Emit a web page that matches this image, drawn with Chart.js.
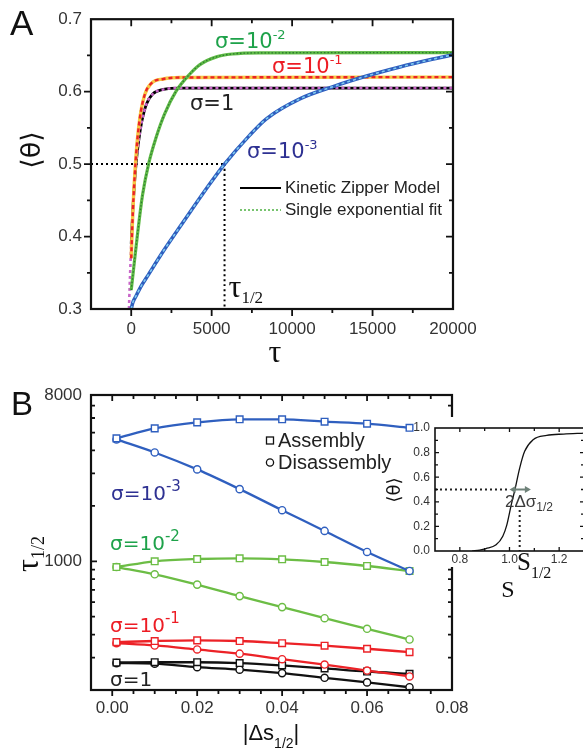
<!DOCTYPE html>
<html><head><meta charset="utf-8">
<script src="https://cdn.jsdelivr.net/npm/chart.js@4.4.1/dist/chart.umd.min.js"></script>
<style>
html,body{margin:0;padding:0;background:#fff;overflow:hidden;width:583px;height:755px;position:relative}
canvas{position:absolute;display:block}
#cA{left:0;top:0;width:583px;height:375px}
#cB{left:0;top:375px;width:583px;height:380px}
#cI{left:380px;top:415px;width:210px;height:190px}
</style></head><body>
<canvas id="cA" width="583" height="375"></canvas>
<canvas id="cB" width="583" height="380"></canvas>
<canvas id="cI" width="210" height="190"></canvas>
<script>
// ---------- Panel A: <θ> versus τ for four σ values ----------
const tauSig1      = [0, 100, 200, 300, 450, 650, 950, 1350, 2000, 3000, 20000];
const thetaSig1    = [0.39, 0.437, 0.472, 0.50, 0.53, 0.558, 0.583, 0.597, 0.603, 0.605, 0.605];
const tauSig1Fit   = [-140, -100, -50, 0, 100, 200, 300, 450, 650, 950, 1350, 2000, 3000, 20000];
const thetaSig1Fit = [0.30, 0.33, 0.36, 0.39, 0.437, 0.472, 0.50, 0.53, 0.558, 0.583, 0.597, 0.603, 0.605, 0.605];

const tauSig01   = [0, 60, 140, 310, 520, 830, 1250, 2000, 3000, 20000];
const thetaSig01 = [0.37, 0.41, 0.453, 0.515, 0.561, 0.595, 0.6115, 0.6175, 0.6195, 0.62];

const tauSig001   = [0, 200, 400, 700, 1100, 1550, 2070, 2800, 3630, 4250, 5300, 6300, 8000, 20000];
const thetaSig001 = [0.326, 0.366, 0.405, 0.457, 0.502, 0.537, 0.569, 0.601, 0.624, 0.637, 0.648, 0.652, 0.6535, 0.654];

const tauSig0001   = [0, 100, 300, 600, 1000, 2000, 3200, 4700, 5800, 7370, 8400, 10480, 12550, 14630, 16700, 18780, 20000];
const thetaSig0001 = [0.300, 0.309, 0.318, 0.331, 0.345, 0.380, 0.419, 0.467, 0.500, 0.540, 0.5625, 0.590, 0.607, 0.6215, 0.634, 0.645, 0.651];

const tauHalf = 5800;          // half-time of the σ=10^-3 curve
const tauTicks = [0, 5000, 10000, 15000, 20000];
const thetaTicks = [0.3, 0.4, 0.5, 0.6, 0.7];

// ---------- Panel B: τ1/2 versus |Δs1/2| ----------
const deltaS = [0.001, 0.01, 0.02, 0.03, 0.04, 0.05, 0.06, 0.07];
const blueAssembly     = [4650, 5270, 5680, 5900, 5900, 5730, 5590, 5310];
const blueDisassembly  = [4590, 3900, 3155, 2465, 1894, 1462, 1124, 886];
const greenAssembly    = [931, 1000, 1029, 1038, 1025, 991, 943, 886];
const greenDisassembly = [931, 850, 747, 647, 564, 491, 430, 376];
const redAssembly      = [364, 369, 372, 369, 359, 348, 335, 321];
const redDisassembly   = [359, 349, 332, 315, 294, 275, 255, 237];
const blackAssembly    = [282, 283, 283, 280, 272, 262, 252, 245];
const blackDisassembly = [280, 278, 266, 258, 247, 233, 220, 207];
const dsTicks = [0, 0.02, 0.04, 0.06, 0.08];
const tauHalfTicks = [1000, 8000];

// ---------- Inset: equilibrium <θ> versus s ----------
const sVals     = [0.85, 0.88, 0.905, 0.946, 0.973, 0.989, 1.007, 1.022, 1.041, 1.061, 1.095, 1.15, 1.218, 1.3];
const thetaEq   = [0.0, 0.008, 0.02, 0.05, 0.12, 0.21, 0.375, 0.5, 0.674, 0.81, 0.905, 0.94, 0.951, 0.959];
const sHalf = 1.041;
const sTicks = [0.8, 1.0, 1.2];
const thetaEqTicks = [0, 0.2, 0.4, 0.6, 0.8, 1.0];

// ---------- helpers ----------
const SANS = '"Liberation Sans", Arial, sans-serif';
const SERIF = '"Liberation Serif", "Times New Roman", serif';
const DJ = '"DejaVu Sans", sans-serif';
const pts = (xs, ys) => xs.map((x, i) => ({x, y: ys[i]}));

function richText(ctx, x, y, parts, align) {
  let w = 0;
  parts.forEach(p => { ctx.font = p.font; p.w = ctx.measureText(p.t).width; w += p.w; });
  let cx = align === 'center' ? x - w / 2 : x;
  ctx.textAlign = 'left'; ctx.textBaseline = 'alphabetic';
  parts.forEach(p => { ctx.font = p.font; ctx.fillStyle = p.color; ctx.fillText(p.t, cx, y + (p.dy || 0)); cx += p.w; });
}
function sigmaLabel(ctx, x, y, exp, color, size, supSize) {
  const parts = [{t: exp === null ? 'σ=1' : 'σ=10', font: size + 'px ' + DJ, color}];
  if (exp !== null) parts.push({t: exp, font: supSize + 'px ' + DJ, color, dy: -size * 0.45});
  richText(ctx, x, y, parts, 'left');
}

// axis box with major/minor tick marks placed by the chart's scales
function drawBox(chart, f) {
  const {ctx, chartArea: a} = chart;
  const sx = chart.scales.x, sy = chart.scales.y;
  ctx.save();
  ctx.strokeStyle = '#111';
  ctx.lineWidth = f.tickW;
  ctx.beginPath();
  const seg = (x1, y1, x2, y2) => { ctx.moveTo(x1, y1); ctx.lineTo(x2, y2); };
  [[f.xMajor, f.major], [f.xMinor, f.minor]].forEach(([list, len]) => list.forEach(v => {
    const p = sx.getPixelForValue(v);
    if (p < a.left + 1 || p > a.right - 1) return;
    seg(p, a.bottom, p, a.bottom + (f.bottomOut ? len : -len));
    seg(p, a.top, p, a.top + len);
  }));
  [[f.yMajor, f.major], [f.yMinor, f.minor]].forEach(([list, len]) => list.forEach(v => {
    const p = sy.getPixelForValue(v);
    if (p < a.top + 1 || p > a.bottom - 1) return;
    seg(a.left, p, a.left + (f.leftOut ? -len : len), p);
    seg(a.right, p, a.right - len, p);
  }));
  ctx.stroke();
  ctx.lineWidth = f.boxW;
  ctx.strokeRect(a.left, a.top, a.right - a.left, a.bottom - a.top);
  ctx.restore();
}

Chart.defaults.font.family = SANS;
Chart.defaults.color = '#333';

const baseScale = (min, max, ticks, fmt, pad, size) => ({
  type: 'linear', min, max,
  afterBuildTicks: s => { s.ticks = ticks.map(v => ({value: v})); },
  grid: {display: false, drawTicks: false},
  border: {display: false},
  ticks: {padding: pad, font: {size}, color: '#333', maxRotation: 0, autoSkip: false, callback: fmt}
});

// ---------- Panel A chart ----------
const lineA = (xs, ys, color, width, dash, order) => ({
  data: pts(xs, ys), borderColor: color, borderWidth: width, borderDash: dash,
  pointRadius: 0, cubicInterpolationMode: 'monotone', fill: false, order
});

const panelA = {
  id: 'panelA',
  afterDraw(chart) {
    const ctx = chart.ctx;
    const xs = chart.scales.x, ys = chart.scales.y;
    drawBox(chart, {
      xMajor: tauTicks, xMinor: [2500, 7500, 12500, 17500],
      yMajor: thetaTicks, yMinor: [0.35, 0.45, 0.55, 0.65],
      major: 7, minor: 4, tickW: 1.8, boxW: 2.2, bottomOut: true, leftOut: true
    });
    ctx.save();
    // panel letter
    ctx.font = '35px ' + SANS; ctx.fillStyle = '#111'; ctx.textAlign = 'left'; ctx.textBaseline = 'alphabetic';
    ctx.fillText('A', 10, 35);
    // σ labels
    sigmaLabel(ctx, 215, 48, '-2', '#1ea24a', 21, 13);
    sigmaLabel(ctx, 272, 73, '-1', '#ed1c24', 21, 13);
    sigmaLabel(ctx, 190, 110, null, '#222', 21, 13);
    sigmaLabel(ctx, 247, 158, '-3', '#2e3192', 21, 13);
    // τ1/2 marker label
    richText(ctx, xs.getPixelForValue(tauHalf) + 4, 297, [
      {t: 'τ', font: '32px ' + SERIF, color: '#111'},
      {t: '1/2', font: '17px ' + SERIF, color: '#111', dy: 6}
    ], 'left');
    // legend
    ctx.lineWidth = 2.2; ctx.strokeStyle = '#000';
    ctx.beginPath(); ctx.moveTo(240, 188); ctx.lineTo(281, 188); ctx.stroke();
    ctx.lineWidth = 1.6; ctx.strokeStyle = '#4cb140'; ctx.setLineDash([2, 2]);
    ctx.beginPath(); ctx.moveTo(240, 210); ctx.lineTo(281, 210); ctx.stroke();
    ctx.setLineDash([]);
    ctx.font = '17px ' + SANS; ctx.fillStyle = '#222'; ctx.textBaseline = 'middle';
    ctx.fillText('Kinetic Zipper Model', 285, 188);
    ctx.fillText('Single exponential fit', 285, 210);
    // axis titles
    ctx.textBaseline = 'alphabetic';
    richText(ctx, 275, 362, [{t: 'τ', font: '32px ' + SERIF, color: '#111'}], 'center');
    ctx.translate(40, 150); ctx.rotate(-Math.PI / 2);
    richText(ctx, 0, 0, [{t: '⟨θ⟩', font: '27px ' + DJ, color: '#111'}], 'center');
    ctx.restore();
  }
};

new Chart(document.getElementById('cA'), {
  type: 'line',
  data: {datasets: [
    lineA(tauSig0001, thetaSig0001, '#7fcaf0', 1.6, [3, 3], 1),
    lineA(tauSig0001, thetaSig0001, '#2f5fbf', 3.6, [], 2),
    lineA(tauSig001, thetaSig001, '#2b7a2f', 1.3, [1.5, 2], 3),
    lineA(tauSig001, thetaSig001, '#5fba46', 3.2, [], 4),
    lineA(tauSig01, thetaSig01, '#ec2227', 2.4, [4, 3], 5),
    lineA(tauSig01, thetaSig01, '#f6c744', 3.4, [], 6),
    lineA(tauSig1Fit, thetaSig1Fit, '#c966c9', 2.6, [3, 3], 7),
    lineA(tauSig1, thetaSig1, '#000', 2.8, [], 8),
    lineA([-2500, tauHalf], [0.5, 0.5], '#000', 2, [2, 3], 9),
    lineA([tauHalf, tauHalf], [0.5, 0.3], '#000', 2, [2, 3], 9)
  ]},
  options: {
    responsive: false, animation: false, devicePixelRatio: 1,
    layout: {padding: {top: 14, right: 130, left: 0, bottom: 0}},
    plugins: {legend: {display: false}, tooltip: {enabled: false}},
    scales: {
      x: Object.assign(baseScale(-2500, 20000, tauTicks, v => String(v), 10, 17), {afterFit: s => { s.height = 66; }}),
      y: Object.assign(baseScale(0.3, 0.7, thetaTicks, v => v.toFixed(1), 9, 17), {afterFit: s => { s.width = 91; }})
    }
  },
  plugins: [panelA]
});

// ---------- Panel B chart ----------
const seriesB = (ys, color, style) => ({
  data: pts(deltaS, ys), borderColor: color, borderWidth: 2.3,
  pointStyle: style, pointRadius: style === 'rect' ? 4.7 : 3.6,
  pointBorderWidth: 1.4, pointBackgroundColor: '#fff', pointBorderColor: color,
  cubicInterpolationMode: 'monotone', fill: false
});

const minorLog = [200, 300, 400, 500, 600, 700, 800, 900, 2000, 3000, 4000, 5000, 6000, 7000];
const minorDs = [];
for (let k = 1; k < 16; k += 2) minorDs.push(+(k * 0.005).toFixed(3));

const panelB = {
  id: 'panelB',
  afterDraw(chart) {
    const ctx = chart.ctx;
    drawBox(chart, {
      xMajor: dsTicks, xMinor: minorDs.concat([0.01, 0.03, 0.05, 0.07]),
      yMajor: tauHalfTicks, yMinor: minorLog,
      major: 6, minor: 4, tickW: 1.8, boxW: 2.2, bottomOut: true, leftOut: false
    });
    ctx.save();
    const oy = -375;
    ctx.font = '33px ' + SANS; ctx.fillStyle = '#111'; ctx.textAlign = 'left'; ctx.textBaseline = 'alphabetic';
    ctx.fillText('B', 11, 415 + oy);
    sigmaLabel(ctx, 111, 500 + oy, '-3', '#2e3192', 20, 15);
    sigmaLabel(ctx, 110, 550 + oy, '-2', '#1ea24a', 20, 15);
    sigmaLabel(ctx, 110, 632 + oy, '-1', '#ed1c24', 20, 15);
    sigmaLabel(ctx, 110, 686 + oy, null, '#222', 20, 15);
    // marker legend
    ctx.strokeStyle = '#111'; ctx.lineWidth = 1.3;
    ctx.strokeRect(266.5, 437 + oy, 7, 7);
    ctx.beginPath(); ctx.arc(270, 462.5 + oy, 3.6, 0, Math.PI * 2); ctx.stroke();
    ctx.font = '20px ' + SANS; ctx.fillStyle = '#222'; ctx.textBaseline = 'middle';
    ctx.fillText('Assembly', 278, 441 + oy);
    ctx.fillText('Disassembly', 278, 463 + oy);
    // axis titles
    richText(ctx, 271, 740 + oy, [
      {t: '|Δs', font: '22px ' + SANS, color: '#111'},
      {t: '1/2', font: '14px ' + SANS, color: '#111', dy: 8},
      {t: '|', font: '22px ' + SANS, color: '#111'}
    ], 'center');
    ctx.translate(38, 554 + oy); ctx.rotate(-Math.PI / 2);
    richText(ctx, 0, 0, [
      {t: 'τ', font: '32px ' + SERIF, color: '#111'},
      {t: '1/2', font: '18px ' + SERIF, color: '#111', dy: 6}
    ], 'center');
    ctx.restore();
  }
};

new Chart(document.getElementById('cB'), {
  type: 'line',
  data: {datasets: [
    seriesB(blueAssembly, '#2f5fbf', 'rect'),
    seriesB(blueDisassembly, '#2f5fbf', 'circle'),
    seriesB(greenAssembly, '#6cbd45', 'rect'),
    seriesB(greenDisassembly, '#6cbd45', 'circle'),
    seriesB(redAssembly, '#ec2227', 'rect'),
    seriesB(redDisassembly, '#ec2227', 'circle'),
    seriesB(blackAssembly, '#111', 'rect'),
    seriesB(blackDisassembly, '#111', 'circle')
  ]},
  options: {
    responsive: false, animation: false, devicePixelRatio: 1,
    layout: {padding: {top: 20, right: 131, left: 0, bottom: 0}},
    plugins: {legend: {display: false}, tooltip: {enabled: false}},
    scales: {
      x: Object.assign(baseScale(-0.005, 0.08, dsTicks, v => v.toFixed(2), 8, 17), {afterFit: s => { s.height = 65; }}),
      y: Object.assign(baseScale(200, 8000, tauHalfTicks, v => String(v), 9, 17), {type: 'logarithmic', afterFit: s => { s.width = 91; }})
    }
  },
  plugins: [panelB]
});

// ---------- Inset chart ----------
const insetPlugin = {
  id: 'inset',
  beforeDraw(chart) {
    const {ctx, chartArea: a} = chart;
    ctx.save(); ctx.fillStyle = '#fff';
    ctx.fillRect(a.left - 2, a.top - 11, chart.width - a.left + 2, a.bottom - a.top + 27);
    ctx.restore();
  },
  afterDraw(chart) {
    const ctx = chart.ctx;
    const xs = chart.scales.x, ys = chart.scales.y;
    drawBox(chart, {
      xMajor: sTicks, xMinor: [0.9, 1.1, 1.3],
      yMajor: thetaEqTicks, yMinor: [0.1, 0.3, 0.5, 0.7, 0.9],
      major: 4, minor: 3, tickW: 1.3, boxW: 1.6, bottomOut: false, leftOut: false
    });
    ctx.save();
    // double-headed width arrow at half saturation
    const y5 = ys.getPixelForValue(0.5);
    const x1 = xs.getPixelForValue(1.0), x2 = xs.getPixelForValue(1.086);
    ctx.strokeStyle = '#6f8279'; ctx.fillStyle = '#6f8279'; ctx.lineWidth = 2;
    ctx.beginPath(); ctx.moveTo(x1 + 3, y5); ctx.lineTo(x2 - 3, y5); ctx.stroke();
    ctx.beginPath(); ctx.moveTo(x1, y5); ctx.lineTo(x1 + 6, y5 - 3.5); ctx.lineTo(x1 + 6, y5 + 3.5); ctx.closePath(); ctx.fill();
    ctx.beginPath(); ctx.moveTo(x2, y5); ctx.lineTo(x2 - 6, y5 - 3.5); ctx.lineTo(x2 - 6, y5 + 3.5); ctx.closePath(); ctx.fill();
    const ox = -380, oy = -415;
    richText(ctx, 505 + ox, 507 + oy, [
      {t: '2Δσ', font: '17px ' + SANS, color: '#3a3a3a'},
      {t: '1/2', font: '12px ' + SANS, color: '#3a3a3a', dy: 4}
    ], 'left');
    richText(ctx, 517 + ox, 570 + oy, [
      {t: 'S', font: '25px ' + SERIF, color: '#111'},
      {t: '1/2', font: '16px ' + SERIF, color: '#111', dy: 8}
    ], 'left');
    richText(ctx, 508 + ox, 597 + oy, [{t: 'S', font: '24px ' + SERIF, color: '#111'}], 'center');
    ctx.translate(400 + ox, 490 + oy); ctx.rotate(-Math.PI / 2);
    richText(ctx, 0, 0, [{t: '⟨θ⟩', font: '18px ' + DJ, color: '#111'}], 'center');
    ctx.restore();
  }
};

new Chart(document.getElementById('cI'), {
  type: 'line',
  data: {datasets: [
    {data: pts(sVals, thetaEq), borderColor: '#111', borderWidth: 1.3, pointRadius: 0, cubicInterpolationMode: 'monotone', fill: false},
    {data: pts([0.7, 1.0], [0.5, 0.5]), borderColor: '#222', borderWidth: 2, borderDash: [2, 3], pointRadius: 0, fill: false},
    {data: pts([sHalf, sHalf], [0.333, 0]), borderColor: '#222', borderWidth: 2, borderDash: [2, 3], pointRadius: 0, fill: false}
  ]},
  options: {
    responsive: false, animation: false, devicePixelRatio: 1,
    layout: {padding: {top: 13, right: 6, left: 0, bottom: 0}},
    plugins: {legend: {display: false}, tooltip: {enabled: false}},
    scales: {
      x: Object.assign(baseScale(0.7, 1.3, sTicks, v => v.toFixed(1), 1, 12), {afterFit: s => { s.height = 54; }}),
      y: Object.assign(baseScale(0, 1, thetaEqTicks, v => v.toFixed(1), 5, 12), {afterFit: s => { s.width = 55; }})
    }
  },
  plugins: [insetPlugin]
});
</script></body></html>
